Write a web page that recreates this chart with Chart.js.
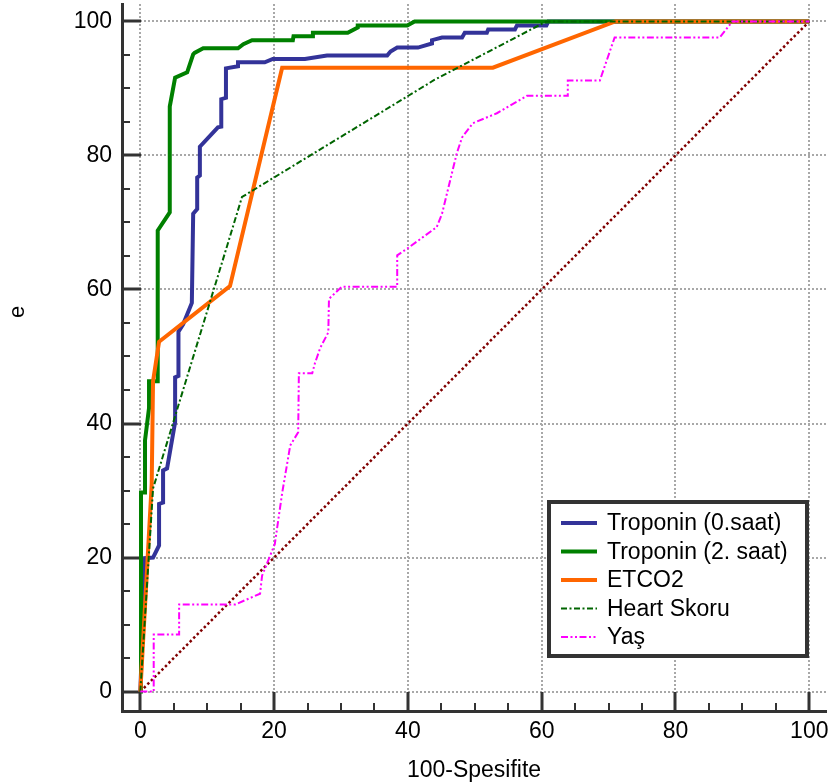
<!DOCTYPE html>
<html>
<head>
<meta charset="utf-8">
<title>ROC</title>
<script src="https://cdn.jsdelivr.net/npm/chart.js@4.4.1/dist/chart.umd.min.js"></script>
<style>
  html, body { margin: 0; padding: 0; background: #fff; }
</style>
</head>
<body>
<canvas id="roc" width="830" height="784"></canvas>
<script>
// ROC curves, [100-specificity, sensitivity] pairs
const troponin0 = [
  [0, 0], [0.7, 19.9], [1.9, 20], [2.8, 21.8], [2.8, 28], [3.4, 28.2], [3.4, 33],
  [4.0, 33.3], [5.2, 40.2], [5.2, 46.9], [5.7, 47.1], [5.7, 53.7], [6.4, 54.8],
  [7.7, 58], [7.9, 71.3], [8.5, 72], [8.5, 76.7], [8.9, 77], [8.9, 81.3],
  [11.6, 84.2], [12.1, 84.3], [12.1, 88.4], [12.8, 88.6], [12.8, 93], [14.6, 93.3],
  [14.6, 93.9], [18.6, 93.9], [19.8, 94.4], [24.6, 94.4], [27.9, 94.9], [36.9, 94.9],
  [37.4, 95.5], [38.4, 96.1], [41.5, 96.1], [43.6, 96.7], [43.6, 97.2], [45.1, 97.6],
  [48.1, 97.6], [48.5, 98.3], [51.8, 98.3], [52, 98.8], [56, 98.8], [56.3, 99.4],
  [60.7, 99.4], [61, 100], [100, 100]
];
const troponin2 = [
  [0, 0], [0.1, 29.7], [0.7, 29.7], [0.7, 37.5], [1.3, 42.3], [1.3, 46.3], [2.6, 46.3],
  [2.6, 68.8], [4.4, 71.5], [4.4, 87.3], [5.2, 91.6], [7.0, 92.4], [7.9, 95.1],
  [8.1, 95.3], [9.4, 96], [14.6, 96], [15.4, 96.6], [16.7, 97.2], [22.8, 97.2],
  [22.9, 97.8], [25.8, 97.8], [25.8, 98.3], [31, 98.3], [32.5, 99.1], [32.5, 99.4],
  [39.9, 99.4], [41, 100], [100, 100]
];
const etco2 = [
  [0, 0], [1.7, 31], [1.9, 46.3], [2.8, 52.2], [13.4, 60.5], [21.2, 93.1],
  [52.7, 93.1], [71, 100], [100, 100]
];
const heartSkoru = [
  [0, 0], [1.9, 30.3], [15.2, 73.8], [44, 91.3], [60.7, 100], [100, 100]
];
const yas = [
  [0, 0], [2, 0], [2, 8.5], [5.8, 8.5], [5.8, 13], [14.2, 13], [17.9, 14.6],
  [18.2, 17.3], [20.1, 22], [21.2, 29.6], [22.2, 35.5], [22.4, 36.7], [23.6, 38.7],
  [23.7, 47.5], [25.7, 47.5], [26.1, 49], [26.9, 51.3], [28.1, 53.6], [28.2, 58.6],
  [30.1, 60.4], [38.4, 60.4], [38.4, 65.1], [39.9, 66.1], [44.3, 69.3], [45.1, 71.3],
  [47.3, 80.3], [48.1, 82.7], [49.7, 84.8], [53.3, 86.3], [57.8, 88.9], [63.9, 88.9],
  [63.9, 91.2], [68.7, 91.2], [70.9, 97.6], [86.6, 97.6], [88.5, 100], [100, 100]
];
const chanceLine = [[0, 0], [100, 100]];

const tickLabels = [0, 20, 40, 60, 80, 100];
const minorTicks = [0, 5, 10, 15, 20, 25, 30, 35, 40, 45, 50, 55, 60, 65, 70, 75, 80, 85, 90, 95, 100];

Chart.defaults.font.family = "'Liberation Sans', Arial, sans-serif";
Chart.defaults.color = "#000";

function pts(arr) {
  return arr.map(([x, y]) => ({ x: x, y: y }));
}

// short inward tick marks on both axes
const axisTicks = {
  id: "axisTicks",
  beforeDatasetsDraw(chart) {
    const ctx = chart.ctx;
    const { left, bottom } = chart.chartArea;
    const xs = chart.scales.x;
    const ys = chart.scales.y;
    ctx.save();
    ctx.strokeStyle = "#333";
    minorTicks.forEach((v) => {
      const major = tickLabels.includes(v);
      const len = major ? 19 : 8;
      ctx.lineWidth = major ? 3 : 2;
      const px = Math.round(xs.getPixelForValue(v));
      ctx.beginPath();
      ctx.moveTo(px, bottom);
      ctx.lineTo(px, bottom - len);
      ctx.stroke();
      const py = Math.round(ys.getPixelForValue(v));
      ctx.beginPath();
      ctx.moveTo(left, py);
      ctx.lineTo(left + len, py);
      ctx.stroke();
    });
    ctx.restore();
  }
};

// y title, drawn by hand so it can sit above centre
const yTitle = {
  id: "yTitle",
  afterDraw(chart) {
    const ctx = chart.ctx;
    ctx.save();
    ctx.translate(18, 312);
    ctx.rotate(-Math.PI / 2);
    ctx.font = "22px 'Liberation Sans', Arial, sans-serif";
    ctx.fillStyle = "#000";
    ctx.textAlign = "center";
    ctx.textBaseline = "middle";
    ctx.fillText("e", 0, 0);
    ctx.restore();
  }
};

// boxed legend in the lower right corner of the plot
const boxLegend = {
  id: "boxLegend",
  afterDraw(chart) {
    const ctx = chart.ctx;
    const area = chart.chartArea;
    const w = 258, h = 154;
    const bx = area.right - 19 - w;
    const by = area.bottom - 55 - h;
    ctx.save();
    ctx.fillStyle = "#fff";
    ctx.fillRect(bx, by, w, h);
    ctx.lineWidth = 4;
    ctx.strokeStyle = "#333";
    ctx.strokeRect(bx, by, w, h);
    ctx.font = "23px 'Liberation Sans', Arial, sans-serif";
    ctx.textBaseline = "middle";
    ctx.fillStyle = "#000";
    chart.data.datasets.filter((d) => d.label).forEach((ds, i) => {
      const y = by + 21 + i * 28.5;
      ctx.strokeStyle = ds.borderColor;
      ctx.lineWidth = ds.borderWidth;
      ctx.setLineDash(ds.borderDash || []);
      ctx.beginPath();
      ctx.moveTo(bx + 12, y);
      ctx.lineTo(bx + 48, y);
      ctx.stroke();
      ctx.setLineDash([]);
      ctx.fillText(ds.label, bx + 58, y + 1);
    });
    ctx.restore();
  }
};

const gridOpts = {
  color: "#a8a8a8",
  lineWidth: 2,
  drawTicks: false
};
const borderOpts = {
  display: true,
  color: "#333",
  width: 3,
  dash: [2, 2]
};

const line = { pointRadius: 0, tension: 0, fill: false };

new Chart(document.getElementById("roc"), {
  type: "line",
  data: {
    datasets: [
      Object.assign({ label: "Troponin (0.saat)", data: pts(troponin0), borderColor: "#333399", borderWidth: 4, order: 5 }, line),
      Object.assign({ label: "Troponin (2. saat)", data: pts(troponin2), borderColor: "#008000", borderWidth: 4, order: 4 }, line),
      Object.assign({ label: "ETCO2", data: pts(etco2), borderColor: "#ff6600", borderWidth: 4, order: 3 }, line),
      Object.assign({ label: "Heart Skoru", data: pts(heartSkoru), borderColor: "#006400", borderWidth: 2, borderDash: [6, 2.5, 2, 2.5], order: 2 }, line),
      Object.assign({ label: "Yaş", data: pts(yas), borderColor: "#ff00ff", borderWidth: 2, borderDash: [7, 2.5, 2, 2.5, 2, 2.5], order: 1 }, line),
      Object.assign({ label: "", data: pts(chanceLine), borderColor: "#800000", borderWidth: 2.5, borderDash: [2.5, 2.5], order: 6 }, line)
    ]
  },
  options: {
    responsive: false,
    animation: false,
    layout: { padding: { top: 4, right: 4, left: 0, bottom: 0 } },
    plugins: {
      legend: { display: false },
      tooltip: { enabled: false }
    },
    scales: {
      x: {
        type: "linear",
        min: -2.74,
        max: 102.5,
        afterBuildTicks: (s) => { s.ticks = tickLabels.map((v) => ({ value: v })); },
        afterFit: (s) => { s.height = 73; s.paddingLeft = 0; s.paddingRight = 0; },
        grid: gridOpts,
        border: borderOpts,
        ticks: { padding: 7, font: { size: 23 }, maxRotation: 0, autoSkip: false },
        title: { display: true, text: "100-Spesifite", font: { size: 23 }, padding: { top: 0, bottom: 0 } }
      },
      y: {
        type: "linear",
        min: -2.9,
        max: 102.6,
        afterBuildTicks: (s) => { s.ticks = tickLabels.map((v) => ({ value: v })); },
        afterFit: (s) => { s.width = 122; s.paddingTop = 0; s.paddingBottom = 0; },
        grid: gridOpts,
        border: borderOpts,
        ticks: { padding: 10, font: { size: 23 }, autoSkip: false }
      }
    }
  },
  plugins: [axisTicks, yTitle, boxLegend]
});
</script>
</body>
</html>
